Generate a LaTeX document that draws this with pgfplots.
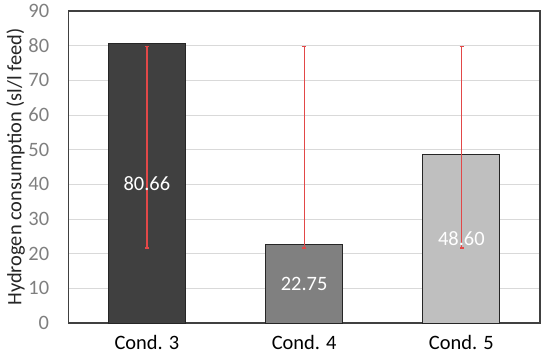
\documentclass[border=0pt]{standalone}
\usepackage{pgfplots}
\pgfplotsset{compat=1.18}
\usepackage{fontspec}
\setmainfont{Carlito}
\definecolor{barA}{HTML}{404040}
\definecolor{barB}{HTML}{808080}
\definecolor{barC}{HTML}{BFBFBF}
\definecolor{gridc}{HTML}{D9D9D9}
\definecolor{ticklab}{HTML}{7F7F7F}
\definecolor{errc}{RGB}{226,72,72}
\definecolor{boxc}{HTML}{404040}
\pgfplotsset{errplot/.style={draw=none, mark=none, forget plot,
  error bars/.cd, y dir=both, y explicit,
  error bar style={draw=errc, line width=1.2bp},
  error mark options={rotate=90, mark size=2.3bp, draw=errc, line width=1.2bp}}}
\begin{document}
\begin{tikzpicture}
\fontsize{20.5}{24}\selectfont
\begin{axis}[
  name=ax,
  scale only axis,
  width=471.7bp, height=312bp,
  xmin=-0.5, xmax=2.5,
  ymin=0, ymax=90,
  ytick={0,10,...,90},
  xtick={0,1,2},
  xticklabels={Cond. 3, Cond. 4, Cond. 5},
  major tick length=0pt,
  ymajorgrids,
  grid style={gridc, line width=1bp},
  axis line style={boxc, line width=1.2bp},
  tick label style={font=\fontsize{20.5}{24}\selectfont},
  yticklabel style={anchor=east, inner sep=0pt, xshift=-19bp, text=ticklab},
  xticklabel style={anchor=north, inner sep=0pt, yshift=-12bp, text=black},
  /pgf/number format/assume math mode=true,
  ylabel={Hydrogen consumption (sl/l feed)},
  ylabel style={at={(axis description cs:0,0.5)}, anchor=north, inner sep=0pt, yshift=62bp, font=\fontsize{20.5}{24}\selectfont, text=black!85},
  clip=false,
]
\addplot[ybar, bar width=0.49, fill=barA, draw=black!85, line width=1bp] coordinates {(0,80.66)};
\addplot[ybar, bar width=0.49, fill=barB, draw=black!85, line width=1bp] coordinates {(1,22.75)};
\addplot[ybar, bar width=0.49, fill=barC, draw=black!85, line width=1bp] coordinates {(2,48.60)};
\addplot[errplot] coordinates {(0,50.65) +- (0,29)};
\addplot[errplot] coordinates {(1,50.65) +- (0,29)};
\addplot[errplot] coordinates {(2.003,50.65) +- (0,29)};
\node[text=white, font=\fontsize{20.5}{24}\selectfont] at (axis cs:0,40.33) {80.66};
\node[text=white, font=\fontsize{20.5}{24}\selectfont] at (axis cs:1,11.37) {22.75};
\node[text=white, font=\fontsize{20.5}{24}\selectfont] at (axis cs:2,24.3) {48.60};
\end{axis}
\pgfresetboundingbox
\path[use as bounding box] (ax.south west) ++(-68.3bp,-31bp) rectangle ([xshift=10bp,yshift=11bp]ax.north east);
\end{tikzpicture}
\end{document}
